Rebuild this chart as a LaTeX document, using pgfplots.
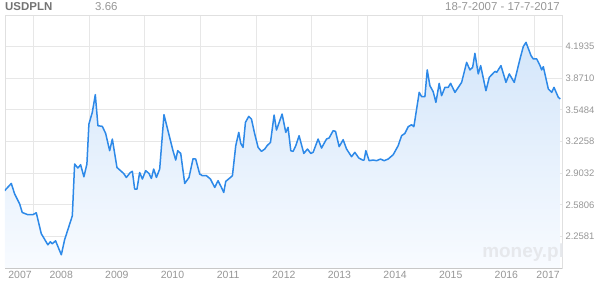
\documentclass[border=0pt]{standalone}
\usepackage{fontspec}
\setmainfont{Liberation Sans}
\usepackage{pgfplots}
\usepackage{pgfplotstable}
\pgfplotsset{compat=1.18}
\definecolor{linec}{RGB}{45,137,232}
\definecolor{filltop}{RGB}{212,230,250}
\definecolor{fillbot}{RGB}{248,251,255}
\definecolor{gridc}{RGB}{231,231,231}
\definecolor{framec}{RGB}{224,224,224}
\definecolor{botc}{RGB}{200,200,200}
\definecolor{labc}{RGB}{150,150,150}
\definecolor{titc}{RGB}{115,115,115}
\definecolor{wmc}{RGB}{230,232,236}

\pgfplotstableread{
t v
2007.482 2.7235
2007.603 2.798
2007.662 2.693
2007.752 2.591
2007.800 2.502
2007.901 2.479
2007.991 2.479
2008.052 2.499
2008.142 2.285
2008.261 2.172
2008.304 2.203
2008.340 2.183
2008.399 2.213
2008.502 2.070
2008.561 2.223
2008.700 2.468
2008.741 2.996
2008.800 2.955
2008.849 2.989
2008.908 2.866
2008.962 2.996
2008.998 3.404
2009.059 3.523
2009.113 3.704
2009.160 3.387
2009.239 3.380
2009.299 3.308
2009.371 3.132
2009.419 3.251
2009.502 2.961
2009.622 2.900
2009.671 2.859
2009.743 2.910
2009.779 2.921
2009.820 2.741
2009.862 2.741
2009.910 2.910
2009.959 2.843
2010.018 2.928
2010.077 2.900
2010.121 2.849
2010.162 2.945
2010.211 2.859
2010.270 2.945
2010.347 3.499
2010.419 3.336
2010.509 3.132
2010.558 3.037
2010.594 3.132
2010.648 3.104
2010.720 2.798
2010.797 2.859
2010.869 3.050
2010.917 3.047
2010.989 2.894
2011.038 2.877
2011.110 2.877
2011.182 2.843
2011.259 2.757
2011.318 2.826
2011.380 2.757
2011.421 2.706
2011.457 2.819
2011.529 2.853
2011.577 2.877
2011.637 3.183
2011.691 3.319
2011.727 3.206
2011.768 3.166
2011.811 3.421
2011.871 3.482
2011.919 3.455
2011.978 3.302
2012.038 3.166
2012.099 3.125
2012.158 3.149
2012.200 3.183
2012.261 3.217
2012.326 3.496
2012.369 3.343
2012.428 3.438
2012.470 3.506
2012.536 3.319
2012.577 3.370
2012.626 3.132
2012.667 3.125
2012.716 3.183
2012.775 3.285
2012.860 3.104
2012.926 3.149
2012.986 3.104
2013.027 3.115
2013.117 3.251
2013.178 3.159
2013.268 3.251
2013.315 3.262
2013.387 3.336
2013.430 3.329
2013.495 3.173
2013.567 3.244
2013.628 3.149
2013.718 3.071
2013.777 3.115
2013.849 3.057
2013.916 3.037
2013.944 3.037
2013.975 3.132
2014.034 3.030
2014.106 3.037
2014.167 3.030
2014.239 3.047
2014.304 3.030
2014.376 3.047
2014.466 3.091
2014.556 3.183
2014.617 3.285
2014.676 3.308
2014.736 3.377
2014.797 3.397
2014.838 3.377
2014.934 3.727
2014.977 3.683
2015.036 3.683
2015.078 3.956
2015.126 3.795
2015.185 3.734
2015.234 3.625
2015.293 3.819
2015.336 3.693
2015.396 3.778
2015.455 3.778
2015.498 3.819
2015.576 3.727
2015.696 3.829
2015.786 4.033
2015.845 3.956
2015.894 3.982
2015.935 4.125
2015.995 3.915
2016.038 4.000
2016.133 3.744
2016.193 3.880
2016.295 3.941
2016.326 3.931
2016.403 4.000
2016.493 3.829
2016.552 3.915
2016.642 3.829
2016.745 4.068
2016.804 4.1935
2016.853 4.237
2016.943 4.102
2016.984 4.068
2017.045 4.068
2017.105 4.000
2017.135 3.956
2017.164 3.989
2017.254 3.762
2017.315 3.727
2017.356 3.778
2017.434 3.676
2017.470 3.660
}\usd

\begin{document}
\begin{tikzpicture}
\useasboundingbox (0bp,0bp) rectangle (600bp,286bp);
\begin{axis}[
  at={(5bp,18bp)}, anchor=south west,
  scale only axis, width=557bp, height=253bp,
  xmin=2007.49, xmax=2017.5,
  ymin=1.935484, ymax=4.516129,
  xtick={2007.76,2008.5,2009.5,2010.5,2011.5,2012.5,2013.5,2014.5,2015.5,2016.5,2017.25},
  xticklabels={2007,2008,2009,2010,2011,2012,2013,2014,2015,2016,2017},
  minor xtick={2008,2009,2010,2011,2012,2013,2014,2015,2016,2017},
  xminorgrids=true, xmajorgrids=false,
  ytick={2.258065,2.580645,2.903226,3.225806,3.548387,3.870968,4.193548},
  yticklabels={2.2581,2.5806,2.9032,3.2258,3.5484,3.8710,4.1935},
  ymajorgrids=true,
  yticklabel pos=right,
  major tick length=0pt, minor tick length=0pt,
  grid style={draw=gridc, line width=0.8bp},
  minor grid style={draw=gridc, line width=0.8bp},
  axis line style={draw=framec, line width=0.8bp},
  x tick label style={font=\fontsize{10.5}{11}\selectfont, text=labc},
  y tick label style={font=\fontsize{9.5}{10}\selectfont, text=labc},
  clip=true,
]
\addplot[draw=none, shade, top color=filltop, bottom color=fillbot, forget plot] table[x=t,y=v]{\usd} \closedcycle;
\addplot[color=linec, line width=1.5bp, line join=round, mark=none] table[x=t,y=v]{\usd};
\node[anchor=base east, font=\bfseries\fontsize{19}{19}\selectfont, text=wmc, inner sep=0pt] at (rel axis cs:1.004,0.04) {money.pl};
\end{axis}
\draw[botc, line width=0.9bp] (5bp,18bp) -- (562bp,18bp);
\node[anchor=base west, inner sep=0pt, font=\bfseries\fontsize{11.5}{12}\selectfont, text=titc] at (5bp,275bp) {USDPLN};
\node[anchor=base west, inner sep=0pt, font=\fontsize{11.5}{12}\selectfont, text=labc] at (95bp,275bp) {3.66};
\node[anchor=base east, inner sep=0pt, font=\fontsize{11.5}{12}\selectfont, text=labc] at (560bp,275bp) {18-7-2007 - 17-7-2017};
\end{tikzpicture}
\end{document}
